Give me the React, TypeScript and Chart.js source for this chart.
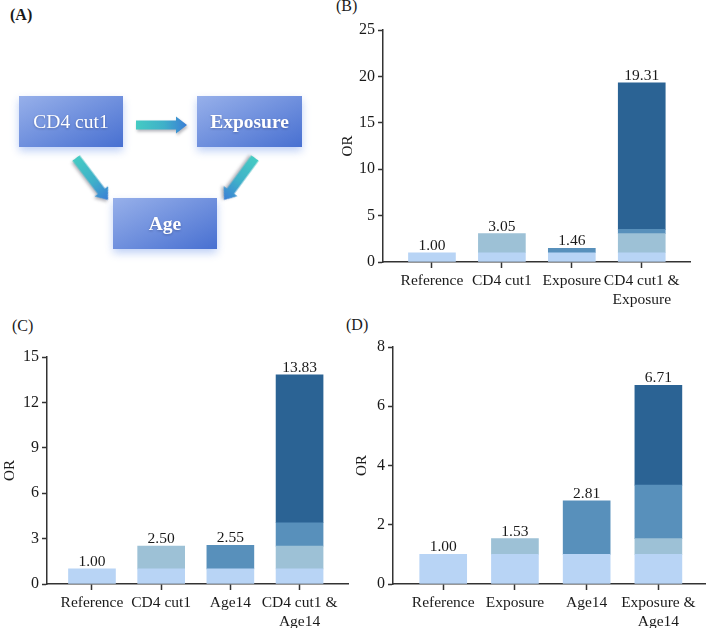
import React, { useEffect, useRef } from 'react';
import { Chart, registerables } from 'chart.js';

Chart.register(...registerables);

const SERIF = '"Liberation Serif", "Times New Roman", Times, serif';
const INK = '#1a1a1a';
const AXIS = '#333333';

// Segment colours: baseline, first factor excess, second factor excess, joint excess
const COLOR_BASE = '#b8d4f5';
const COLOR_F1 = '#9dc1d6';
const COLOR_F2 = '#5890bb';
const COLOR_JOINT = '#2b6394';

// Panel B: CD4 cut1 x Exposure
const B_CATEGORIES: (string | string[])[] = ['Reference', 'CD4 cut1', 'Exposure', ['CD4 cut1 &', 'Exposure']];
const B_OR = [1.0, 3.05, 1.46, 19.31];
const B_Y_TICKS = [0, 5, 10, 15, 20, 25];

// Panel C: CD4 cut1 x Age14
const C_CATEGORIES: (string | string[])[] = ['Reference', 'CD4 cut1', 'Age14', ['CD4 cut1 &', 'Age14']];
const C_OR = [1.0, 2.5, 2.55, 13.83];
const C_Y_TICKS = [0, 3, 6, 9, 12, 15];

// Panel D: Exposure x Age14
const D_CATEGORIES: (string | string[])[] = ['Reference', 'Exposure', 'Age14', ['Exposure &', 'Age14']];
const D_OR = [1.0, 1.53, 2.81, 6.71];
const D_Y_TICKS = [0, 2, 4, 6, 8];

type PanelProps = {
  left: number;
  top: number;
  width: number;
  height: number;
  categories: (string | string[])[];
  or: number[];
  yTicks: number[];
  xMin: number;
  xMax: number;
  padTop: number;
  padRight: number;
  yWidth: number;
  xHeight: number;
  titlePad: number;
};

// Split the four ORs (reference, factor 1, factor 2, joint) into stacked segments
function segments(or: number[]) {
  const [ref, a, b, ab] = or;
  return {
    base: [ref, ref, ref, ref],
    f1: [null, a - ref, null, a - ref],
    f2: [null, null, b - ref, b - ref],
    joint: [null, null, null, ab - a - b + ref],
  };
}

function InteractionBars(p: PanelProps) {
  const ref = useRef<HTMLCanvasElement | null>(null);

  useEffect(() => {
    if (!ref.current) return;
    const seg = segments(p.or);
    const toPoints = (arr: (number | null)[]) => arr.map((y, i) => ({ x: i, y }));
    const catFont = { family: SERIF, size: 15.5 };
    const yFont = { family: SERIF, size: 16 };

    const valueLabels = {
      id: 'valueLabels',
      afterDatasetsDraw(chart: any) {
        const { ctx, scales } = chart;
        ctx.save();
        ctx.font = `15.5px ${SERIF}`;
        ctx.fillStyle = INK;
        ctx.textAlign = 'center';
        ctx.textBaseline = 'alphabetic';
        p.or.forEach((v, i) => {
          const x = scales.x.getPixelForValue(i);
          const y = scales.y.getPixelForValue(v);
          ctx.fillText(v.toFixed(2), x, y - 3);
        });
        ctx.restore();
      },
    };

    const chart = new Chart(ref.current, {
      type: 'bar',
      data: {
        datasets: [
          { label: 'Reference', data: toPoints(seg.base), backgroundColor: COLOR_BASE },
          { label: 'Factor 1', data: toPoints(seg.f1), backgroundColor: COLOR_F1 },
          { label: 'Factor 2', data: toPoints(seg.f2), backgroundColor: COLOR_F2 },
          { label: 'Joint', data: toPoints(seg.joint), backgroundColor: COLOR_JOINT },
        ] as any,
      },
      options: {
        animation: false,
        responsive: false,
        devicePixelRatio: 1,
        layout: { padding: { left: 0, top: p.padTop, right: p.padRight, bottom: 0 } },
        datasets: { bar: { barThickness: 47, borderWidth: 0 } as any },
        plugins: { legend: { display: false }, tooltip: { enabled: false } },
        scales: {
          x: {
            type: 'linear',
            stacked: true,
            offset: false,
            min: p.xMin,
            max: p.xMax,
            afterBuildTicks: (s: any) => {
              s.ticks = p.categories.map((_, i) => ({ value: i }));
            },
            afterFit: (s: any) => {
              s.height = p.xHeight;
            },
            ticks: {
              callback: (v: any) => p.categories[v as number],
              font: catFont,
              color: INK,
              padding: 4,
              autoSkip: false,
              maxRotation: 0,
              minRotation: 0,
            },
            grid: {
              offset: false,
              drawOnChartArea: false,
              drawTicks: true,
              tickLength: 6,
              tickWidth: 1.5,
              tickColor: AXIS,
            },
            border: { display: true, color: AXIS, width: 1.5 },
          },
          y: {
            type: 'linear',
            stacked: true,
            min: p.yTicks[0],
            max: p.yTicks[p.yTicks.length - 1],
            afterBuildTicks: (s: any) => {
              s.ticks = p.yTicks.map((v) => ({ value: v }));
            },
            afterFit: (s: any) => {
              s.width = p.yWidth;
            },
            ticks: { font: yFont, color: INK, padding: 3 },
            title: {
              display: true,
              text: 'OR',
              font: { family: SERIF, size: 15 },
              color: INK,
              padding: { top: p.titlePad, bottom: 0 },
            },
            grid: {
              drawOnChartArea: false,
              drawTicks: true,
              tickLength: 5,
              tickWidth: 1.5,
              tickColor: AXIS,
            },
            border: { display: true, color: AXIS, width: 1.5 },
          },
        } as any,
      },
      plugins: [valueLabels],
    });
    return () => chart.destroy();
  }, []);

  return (
    <canvas
      ref={ref}
      width={p.width}
      height={p.height}
      style={{ position: 'absolute', left: p.left, top: p.top, width: p.width, height: p.height }}
    />
  );
}

// Arrow outline along +x, tail at origin
function arrowPoints(len: number) {
  const shaft = 4.6;
  const head = 8.5;
  const headLen = 11;
  return [
    [0, -shaft],
    [len - headLen, -shaft],
    [len - headLen, -head],
    [len, 0],
    [len - headLen, head],
    [len - headLen, shaft],
    [0, shaft],
  ]
    .map((q) => q.join(','))
    .join(' ');
}

function Arrow({ x1, y1, x2, y2 }: { x1: number; y1: number; x2: number; y2: number }) {
  const len = Math.hypot(x2 - x1, y2 - y1);
  const ang = (Math.atan2(y2 - y1, x2 - x1) * 180) / Math.PI;
  return (
    <polygon
      points={arrowPoints(len)}
      fill="url(#arrowGrad)"
      transform={`translate(${x1},${y1}) rotate(${ang})`}
      style={{ filter: 'drop-shadow(1px 2px 1.5px rgba(40,40,60,0.35))' }}
    />
  );
}

function Node({ x, y, w, h, text, bold }: { x: number; y: number; w: number; h: number; text: string; bold?: boolean }) {
  return (
    <g>
      <rect
        x={x}
        y={y}
        width={w}
        height={h}
        fill="url(#boxGrad)"
        style={{ filter: 'drop-shadow(0px 4px 4px rgba(110,150,235,0.45))' }}
      />
      <text
        x={x + w / 2}
        y={y + h / 2 + 6}
        textAnchor="middle"
        fill="#ffffff"
        fontFamily={SERIF}
        fontSize={19.5}
        fontWeight={bold ? 'bold' : 'normal'}
        style={{ filter: 'drop-shadow(0px 1px 1px rgba(30,40,90,0.35))' }}
      >
        {text}
      </text>
    </g>
  );
}

function PathDiagram() {
  return (
    <svg width={340} height={300} style={{ position: 'absolute', left: 0, top: 0 }}>
      <defs>
        <linearGradient id="boxGrad" x1="0" y1="0" x2="1" y2="1">
          <stop offset="0" stopColor="#97b0ea" />
          <stop offset="1" stopColor="#4870d1" />
        </linearGradient>
        <linearGradient id="arrowGrad" x1="0" y1="0" x2="1" y2="0">
          <stop offset="0" stopColor="#45cbc3" />
          <stop offset="0.55" stopColor="#3fb0c9" />
          <stop offset="1" stopColor="#3a7ed6" />
        </linearGradient>
      </defs>
      <Node x={19} y={96} w={104} h={51} text="CD4 cut1" />
      <Node x={197} y={96} w={105} h={51} text="Exposure" bold />
      <Node x={113} y={198} w={104} h={51} text="Age" bold />
      <Arrow x1={136} y1={125} x2={187} y2={125} />
      <Arrow x1={76} y1={158} x2={108} y2={200} />
      <Arrow x1={255} y1={158} x2={224} y2={200} />
    </svg>
  );
}

const labelStyle = (left: number, top: number, bold = false): React.CSSProperties => ({
  position: 'absolute',
  left,
  top,
  fontFamily: SERIF,
  fontSize: 16,
  lineHeight: '16px',
  fontWeight: bold ? 'bold' : 'normal',
  color: INK,
  whiteSpace: 'nowrap',
});

export default function App() {
  return (
    <div
      style={{
        position: 'fixed',
        left: 0,
        top: 0,
        width: 708,
        height: 628,
        background: '#ffffff',
        overflow: 'hidden',
      }}
    >
      <PathDiagram />
      <div style={labelStyle(10, 7, true)}>(A)</div>
      <div style={labelStyle(336, -2)}>(B)</div>
      <div style={labelStyle(12, 318)}>(C)</div>
      <div style={labelStyle(346, 317)}>(D)</div>

      <InteractionBars
        left={335}
        top={8}
        width={370}
        height={305}
        categories={B_CATEGORIES}
        or={B_OR}
        yTicks={B_Y_TICKS}
        xMin={-0.7}
        xMax={3.69}
        padTop={22}
        padRight={15}
        yWidth={48}
        xHeight={51}
        titlePad={4}
      />
      <InteractionBars
        left={0}
        top={340}
        width={360}
        height={288}
        categories={C_CATEGORIES}
        or={C_OR}
        yTicks={C_Y_TICKS}
        xMin={-0.65}
        xMax={3.7}
        padTop={17}
        padRight={12}
        yWidth={47}
        xHeight={44}
        titlePad={1}
      />
      <InteractionBars
        left={350}
        top={330}
        width={358}
        height={298}
        categories={D_CATEGORIES}
        or={D_OR}
        yTicks={D_Y_TICKS}
        xMin={-0.7}
        xMax={3.65}
        padTop={17}
        padRight={3}
        yWidth={43}
        xHeight={44}
        titlePad={3}
      />
    </div>
  );
}
